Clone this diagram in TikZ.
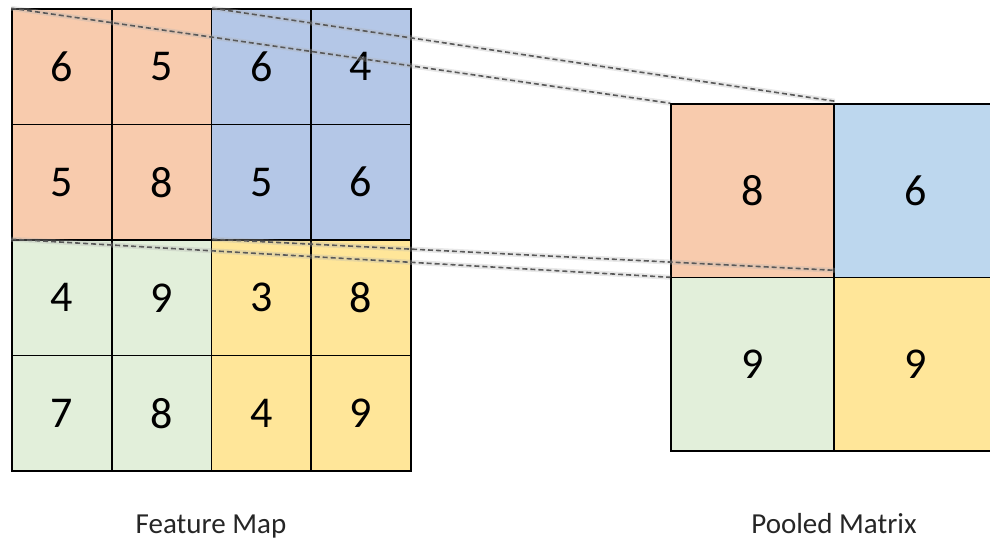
\documentclass[tikz,border=0pt]{standalone}
\usepackage{fontspec}
\setmainfont{Carlito}
\definecolor{orng}{HTML}{F8CBAD}
\definecolor{blueL}{HTML}{B4C7E7}
\definecolor{blueR}{HTML}{BDD7EE}
\definecolor{grn}{HTML}{E2EFDA}
\definecolor{yel}{HTML}{FFE699}
\begin{document}
\begin{tikzpicture}[x=1pt,y=-1pt,
  cell/.style={draw=black, line width=1.6pt, rectangle, inner sep=0pt,
    minimum width=99.75pt, minimum height=115.5pt, font=\fontsize{44}{52}\selectfont},
  pcell/.style={draw=black, line width=1.6pt, rectangle, inner sep=0pt,
    minimum width=163pt, minimum height=173.5pt, font=\fontsize{44}{52}\selectfont},
  dline/.style={draw=black!65, dashed, dash pattern=on 5pt off 3pt, line width=1.6pt},
  dshadow/.style={draw=black!30, line width=5pt, opacity=0.3},
  lbl/.style={font=\fontsize{29}{34}\selectfont, text=black!85, inner sep=0pt, anchor=base}]
\useasboundingbox (0,0) rectangle (990,541);
% feature map
\node[cell, fill=orng]  (c11) at (61.9,66.75) {6};
\node[cell, fill=orng]  (c12) at (161.6,66.75) {5};
\node[cell, fill=blueL] (c13) at (261.4,66.75) {6};
\node[cell, fill=blueL] (c14) at (361.1,66.75) {4};
\node[cell, fill=orng]  (c21) at (61.9,182.25) {5};
\node[cell, fill=orng]  (c22) at (161.6,182.25) {8};
\node[cell, fill=blueL] (c23) at (261.4,182.25) {5};
\node[cell, fill=blueL] (c24) at (361.1,182.25) {6};
\node[cell, fill=grn]   (c31) at (61.9,297.75) {4};
\node[cell, fill=grn]   (c32) at (161.6,297.75) {9};
\node[cell, fill=yel]   (c33) at (261.4,297.75) {3};
\node[cell, fill=yel]   (c34) at (361.1,297.75) {8};
\node[cell, fill=grn]   (c41) at (61.9,413.25) {7};
\node[cell, fill=grn]   (c42) at (161.6,413.25) {8};
\node[cell, fill=yel]   (c43) at (261.4,413.25) {4};
\node[cell, fill=yel]   (c44) at (361.1,413.25) {9};
% pooled matrix
\node[pcell, fill=orng]  (p11) at (752.5,190.75) {8};
\node[pcell, fill=blueR] (p12) at (915.5,190.75) {6};
\node[pcell, fill=grn]   (p21) at (752.5,364.25) {9};
\node[pcell, fill=yel]   (p22) at (915.5,364.25) {9};
% connectors
\coordinate (e1) at ([yshift=2pt]p11.north east);
\coordinate (e2) at ([yshift=8pt]p11.south east);
\coordinate (e3) at ([yshift=1pt]p11.south west);
\draw[dshadow] (c11.north west) -- (p11.north west);
\draw[dshadow] (c12.north east) -- (e1);
\draw[dshadow] (c31.north west) -- (e3);
\draw[dshadow] (c32.north east) -- (e2);
\draw[dline] (c11.north west) -- (p11.north west);
\draw[dline] (c12.north east) -- (e1);
\draw[dline] (c31.north west) -- (e3);
\draw[dline] (c32.north east) -- (e2);
% labels
\node[lbl] (fm) at (211,533) {Feature Map};
\node[lbl] (pm) at (834,533) {Pooled Matrix};
\end{tikzpicture}
\end{document}
